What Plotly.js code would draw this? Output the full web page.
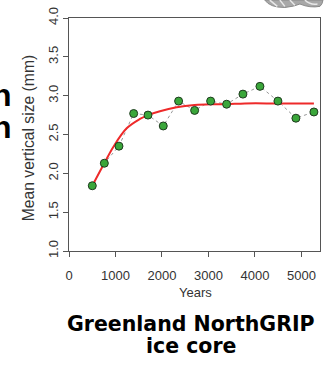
<!DOCTYPE html>
<html>
<head>
<meta charset="utf-8">
<script src="https://cdn.plot.ly/plotly-3.0.1.min.js"></script>
<style>html,body{margin:0;padding:0;background:#fff;}#chart{width:333px;height:371px;}</style>
</head>
<body>
<div id="chart"></div>
<script>
var years = [501, 760, 1075, 1391, 1699, 2028, 2358, 2703, 3047, 3391, 3742, 4108, 4495, 4882, 5269];
var sizes = [1.84, 2.13, 2.35, 2.77, 2.75, 2.61, 2.93, 2.81, 2.93, 2.89, 3.02, 3.12, 2.93, 2.71, 2.79];

// Fitted curve
var fitYears = [501, 759, 953, 1241, 1527, 1699, 1957, 2316, 2703, 3047, 3391, 3785, 4500, 5269];
var fitSizes = [1.84, 2.13, 2.34, 2.58, 2.70, 2.75, 2.80, 2.85, 2.88, 2.89, 2.89, 2.90, 2.90, 2.90];

var xTicks = [0, 1000, 2000, 3000, 4000, 5000];
var yTicks = [1.0, 1.5, 2.0, 2.5, 3.0, 3.5, 4.0];
var yTickText = ["1.0", "1.5", "2.0", "2.5", "3.0", "3.5", "4.0"];

var axisColor = "#555";
var textColor = "#333";

var traces = [
  {
    x: years, y: sizes, type: "scatter", mode: "lines",
    line: {color: "#999", width: 1, dash: "dot"},
    hoverinfo: "skip", showlegend: false
  },
  {
    x: fitYears, y: fitSizes, type: "scatter", mode: "lines",
    line: {color: "#ee2a2a", width: 2, shape: "spline"},
    showlegend: false
  },
  {
    x: years, y: sizes, type: "scatter", mode: "markers",
    marker: {color: "#3aa63a", size: 8, line: {color: "#1f3a1f", width: 1}},
    showlegend: false
  }
];

var layout = {
  width: 333, height: 371,
  margin: {l: 69, r: 13, t: 18, b: 120},
  paper_bgcolor: "#fff", plot_bgcolor: "#fff",
  font: {family: "Liberation Sans, Arial, sans-serif", size: 13, color: textColor},
  xaxis: {
    range: [0, 5400], tickvals: xTicks, ticks: "outside", ticklen: 5, tickcolor: axisColor,
    ticklabelstandoff: 7,
    showline: true, linecolor: axisColor, linewidth: 1, mirror: true,
    showgrid: false, zeroline: false,
    tickfont: {size: 13, color: textColor}
  },
  yaxis: {
    range: [1, 4], tickvals: yTicks, ticktext: yTickText, ticks: "outside", ticklen: 5, tickcolor: axisColor,
    tickangle: -90,
    showline: true, linecolor: axisColor, linewidth: 1, mirror: true,
    showgrid: false, zeroline: false,
    tickfont: {size: 13, color: textColor}
  },
  annotations: [
    {text: "Mean vertical size (mm)", xref: "paper", yref: "paper", x: -0.163, y: 0.484,
     textangle: -90, showarrow: false, font: {size: 15.7, color: textColor}, xanchor: "center", yanchor: "middle"},
    {text: "Years", xref: "paper", yref: "paper", x: 0.502, y: -0.18,
     showarrow: false, font: {size: 13, color: textColor}, xanchor: "center", yanchor: "middle"},
    {text: "Greenland NorthGRIP", xref: "paper", yref: "paper", x: 0.486, y: -0.313,
     showarrow: false, font: {family: "DejaVu Sans", size: 20.5, color: "#000", weight: "bold"}, xanchor: "center", yanchor: "middle"},
    {text: "ice core", xref: "paper", yref: "paper", x: 0.486, y: -0.408,
     showarrow: false, font: {family: "DejaVu Sans", size: 20.5, color: "#000", weight: "bold"}, xanchor: "center", yanchor: "middle"},
    {text: "n", xref: "paper", yref: "paper", x: -0.219, y: 0.668,
     showarrow: false, font: {size: 32, color: "#000", weight: "bold"}, xanchor: "right", yanchor: "middle"},
    {text: "n", xref: "paper", yref: "paper", x: -0.219, y: 0.531,
     showarrow: false, font: {size: 32, color: "#000", weight: "bold"}, xanchor: "right", yanchor: "middle"}
  ],
  shapes: [
    {type: "path", xref: "paper", yref: "paper",
     path: "M 0.78 1.077 Q 0.80 1.045 0.86 1.045 Q 0.90 1.05 0.92 1.06 Q 0.96 1.042 1.0 1.05 Q 1.01 1.06 1.012 1.077 Z",
     fillcolor: "#a8a8a8", line: {color: "#8a8a8a", width: 1}, layer: "above"},
    {type: "path", xref: "paper", yref: "paper",
     path: "M 0.80 1.077 L 0.83 1.05 M 0.84 1.077 L 0.86 1.05 M 0.88 1.077 L 0.90 1.055 M 0.94 1.077 Q 0.96 1.055 0.99 1.06",
     line: {color: "#e8e8e8", width: 1.5}, layer: "above"}
  ]
};

Plotly.newPlot("chart", traces, layout, {displayModeBar: false, staticPlot: true});
</script>
</body>
</html>
